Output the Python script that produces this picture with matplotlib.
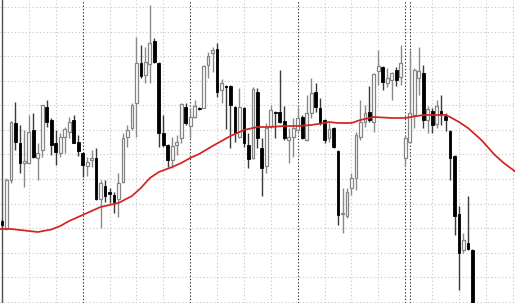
import matplotlib
matplotlib.use("Agg")
import matplotlib.pyplot as plt
import numpy as np

# OHLC values (price units, arbitrary scale)
opens = [82, 75, 123, 180, 160, 140, 140, 173, 145, 153, 196, 183, 160, 150, 166, 171, 183, 161, 150, 137,
         143, 145, 104, 117, 111, 108, 104, 121, 166, 175, 200, 240, 228, 239, 262, 240, 170, 158, 143, 158,
         165, 196, 177, 186, 195, 195, 238, 250, 254, 213, 217, 217, 196, 166, 195, 158, 145, 211, 155, 137,
         177, 191, 191, 182, 163, 166, 173, 186, 163, 190, 211, 195, 183, 165, 175, 152, 89, 87, 115, 125,
         166, 181, 191, 181, 232, 236, 220, 223, 233, 226, 145, 161, 188, 225, 230, 183, 192, 179, 192, 187,
         172, 147, 89, 53, 60, 53]
highs = [84, 125, 182, 201, 178, 173, 188, 190, 160, 198, 203, 185, 173, 170, 176, 186, 188, 168, 151, 146,
         153, 155, 123, 123, 115, 111, 130, 170, 178, 200, 266, 258, 256, 298, 265, 241, 188, 159, 166, 168,
         200, 200, 195, 203, 196, 238, 251, 256, 260, 224, 218, 218, 197, 215, 196, 170, 216, 215, 165, 180,
         198, 192, 233, 197, 175, 185, 196, 188, 208, 225, 220, 205, 184, 180, 176, 153, 115, 115, 130, 171,
         203, 198, 217, 230, 253, 237, 235, 231, 236, 258, 168, 253, 235, 256, 238, 197, 195, 203, 208, 190,
         173, 148, 97, 70, 107, 54]
lows = [75, 73, 120, 153, 130, 116, 140, 145, 123, 146, 176, 148, 138, 146, 150, 165, 160, 147, 126, 127,
        136, 103, 75, 101, 100, 90, 86, 120, 156, 173, 166, 225, 220, 220, 240, 156, 156, 136, 135, 148,
        160, 178, 165, 185, 193, 195, 225, 231, 206, 200, 174, 155, 161, 165, 156, 135, 144, 155, 107, 130,
        175, 165, 180, 163, 140, 146, 172, 164, 162, 185, 191, 178, 160, 161, 155, 78, 70, 85, 108, 113,
        163, 176, 181, 171, 218, 213, 216, 203, 217, 218, 138, 160, 175, 208, 175, 170, 170, 175, 178, 172,
        123, 68, 13, 50, 53, -7]
closes = [78, 123, 181, 161, 140, 142, 171, 146, 150, 198, 181, 158, 151, 166, 174, 181, 160, 152, 138, 141,
          145, 104, 120, 107, 109, 101, 120, 165, 173, 198, 240, 227, 241, 260, 241, 170, 158, 143, 157, 161,
          199, 180, 186, 197, 194, 237, 247, 253, 211, 220, 216, 198, 170, 196, 160, 144, 214, 165, 135, 175,
          193, 190, 181, 165, 166, 175, 185, 165, 190, 210, 196, 181, 163, 174, 156, 88, 90, 111, 125, 168,
          181, 190, 183, 229, 237, 221, 225, 230, 223, 240, 165, 190, 233, 232, 183, 194, 178, 197, 189, 183,
          145, 87, 50, 63, 54, -7]

# moving average (red line), read at selected bar positions (it is shifted past the last bar)
ma_bars = [-1, 2, 8, 11, 13, 15, 18, 20, 22, 24, 26, 29, 31, 33, 35, 38, 40, 42, 44, 47, 49, 51, 54, 57,
           60, 63, 66, 69, 72, 73, 75, 78, 80, 83, 87, 90, 94, 96, 99, 100, 102, 104, 107, 110, 112, 115]
ma_vals = [74, 74, 71, 73.5, 77, 82, 88, 92, 96, 98, 100, 107, 115, 125, 131, 136, 140, 145, 149, 157, 162,
           167, 173, 176, 176, 177, 177, 178, 180, 181, 180, 180, 183, 186, 185, 185, 188, 188, 188, 186,
           181, 175, 163, 148, 140, 130]

# period separators (bar positions)
separators = [18, 42, 66, 90, 91]

fig = plt.figure(figsize=(5.15, 3.03), dpi=100)
ax = fig.add_axes([0, 0, 1, 1])
ax.set_xlim(-0.446, 114.5)
ax.set_ylim(0, 303)

grid_style = dict(color="#cdcdcd", linestyle=(0, (1.2, 2.0)), linewidth=0.8, zorder=0)
for gy in np.arange(1.3, 303, 24.55):
    ax.axhline(gy, **grid_style)
for gx in np.arange(0, 116, 6):
    if gx in separators or gx == 0:
        continue
    ax.axvline(gx, **grid_style)
for sx in separators:
    ax.axvline(sx, color="#303030", linestyle=(0, (1.2, 1.8)), linewidth=0.8, zorder=1)
ax.axvline(-0.1, color="#505050", linewidth=1.0, zorder=1)

n = len(opens)
xs = np.arange(n)
o = np.array(opens, float)
h = np.array(highs, float)
l = np.array(lows, float)
c = np.array(closes, float)
bull = c >= o

# wicks
ax.vlines(xs[bull], l[bull], h[bull], color="#8a8a8a", linewidth=1.0, zorder=2)
ax.vlines(xs[~bull], l[~bull], h[~bull], color="#3a3a3a", linewidth=1.0, zorder=2)

# bodies
bh = np.abs(c - o)
bh = np.where(bh < 1.2, 1.2, bh)
bb = np.minimum(o, c)
ax.bar(xs[bull], bh[bull], bottom=bb[bull], width=0.62, facecolor="white",
       edgecolor="#858585", linewidth=0.9, zorder=3)
ax.bar(xs[~bull], bh[~bull], bottom=bb[~bull], width=0.62, facecolor="black",
       edgecolor="black", linewidth=0.6, zorder=3)

# moving average
ax.plot(ma_bars, ma_vals, color="#d42222", linewidth=1.25, zorder=4)

ax.set_axis_off()
fig.savefig("out.png", dpi=100, facecolor="white")
